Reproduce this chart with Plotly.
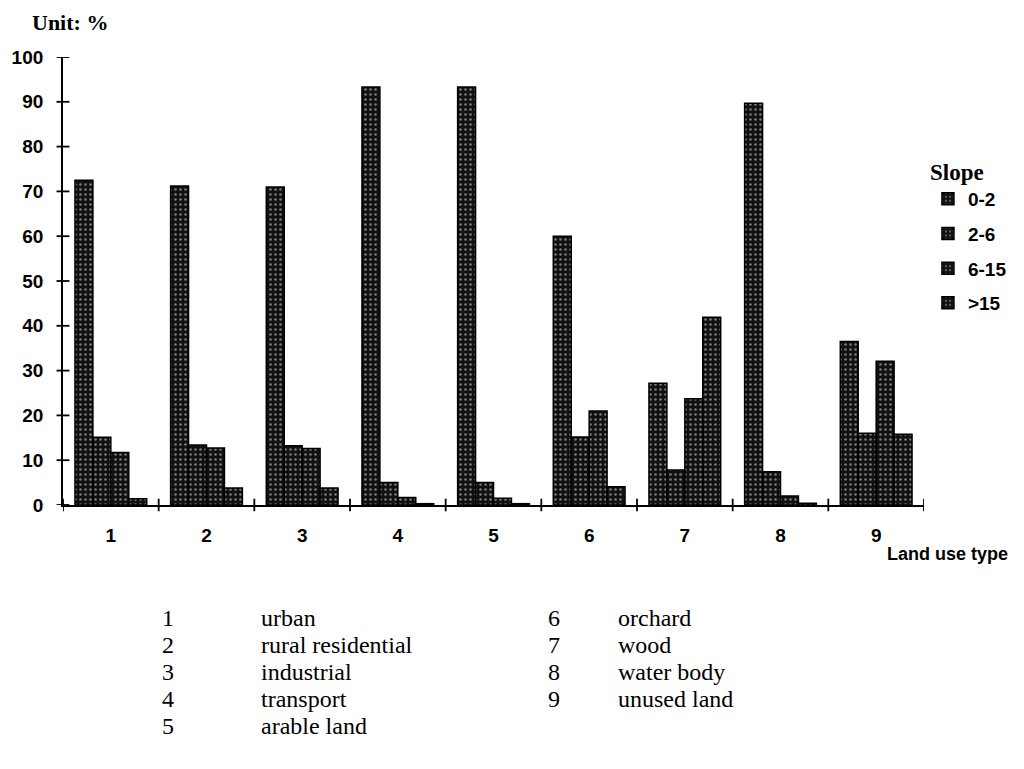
import plotly.graph_objects as go

# Land use type codes and their names
land_use = [1, 2, 3, 4, 5, 6, 7, 8, 9]
land_use_names = ["urban", "rural residential", "industrial", "transport",
                  "arable land", "orchard", "wood", "water body", "unused land"]

# Share of each land use type by slope class (%)
slope_classes = ["0-2", "2-6", "6-15", ">15"]
slope_0_2 = [72.5, 71.2, 71.0, 93.3, 93.3, 60.0, 27.2, 89.7, 36.5]
slope_2_6 = [15.1, 13.4, 13.2, 5.0, 5.0, 15.2, 7.8, 7.4, 16.0]
slope_6_15 = [11.7, 12.7, 12.6, 1.7, 1.5, 21.0, 23.7, 2.0, 32.1]
slope_gt15 = [1.4, 3.8, 3.8, 0.3, 0.3, 4.1, 41.9, 0.4, 15.8]

y_ticks = [0, 10, 20, 30, 40, 50, 60, 70, 80, 90, 100]
x_boundaries = [0.5, 1.5, 2.5, 3.5, 4.5, 5.5, 6.5, 7.5, 8.5, 9.5]

# Plot area in pixels
L, R, T, B = 60, 932, 57, 505
W, H = 1024, 769


def px_x(p):
    return (p - L) / (R - L)


def px_y(p):
    return (B - p) / (B - T)


fig = go.Figure()
for name, vals in zip(slope_classes, [slope_0_2, slope_2_6, slope_6_15, slope_gt15]):
    fig.add_trace(go.Bar(
        x=land_use, y=vals, name=name, legendgroup=name,
        marker=dict(
            color="#111111",
            line=dict(color="black", width=1.5),
            pattern=dict(shape=".", bgcolor="#111111", fgcolor="#e8e8e8",
                         size=5, solidity=0.2),
        ),
    ))

shapes = []
# crossing ticks on the y axis
for v in y_ticks:
    shapes.append(dict(type="line", xref="paper", yref="y",
                       x0=-0.0075, x1=0.0075, y0=v, y1=v,
                       line=dict(color="black", width=1.8)))
# crossing ticks at category boundaries on the x axis
for v in x_boundaries:
    shapes.append(dict(type="line", xref="x", yref="paper",
                       x0=v, x1=v, y0=-0.014, y1=0.014,
                       line=dict(color="black", width=1.8)))

serif = "Liberation Serif"
sans = "Liberation Sans"

annotations = [
    dict(text="<b>Unit: %</b>", x=px_x(27), y=px_y(22), xanchor="left", yanchor="middle",
         font=dict(family=serif, size=22, color="black")),
    dict(text="<b>Land use type</b>", x=px_x(892), y=px_y(554), xanchor="left",
         yanchor="middle", font=dict(family=sans, size=18, color="black")),
]

# Key for the land use codes below the chart
row_y = [618, 645, 672, 699, 726]
for i, (code, nm) in enumerate(zip(land_use, land_use_names)):
    if i < 5:
        cx, tx, ry = 166, 258, row_y[i]
    else:
        cx, tx, ry = 557, 620, row_y[i - 5]
    annotations.append(dict(text=str(code), x=px_x(cx), y=px_y(ry), xanchor="center",
                            yanchor="middle", font=dict(family=serif, size=24, color="black")))
    annotations.append(dict(text=nm, x=px_x(tx), y=px_y(ry), xanchor="left",
                            yanchor="middle", font=dict(family=serif, size=24, color="black")))

for a in annotations:
    a.update(xref="paper", yref="paper", showarrow=False)

fig.update_layout(
    width=W, height=H,
    margin=dict(l=L, r=W - R, t=T, b=H - B),
    paper_bgcolor="white", plot_bgcolor="white",
    barmode="group", bargap=0.25, bargroupgap=0,
    shapes=shapes, annotations=annotations,
    legend=dict(
        title=dict(text="Slope", font=dict(family=serif, size=23, color="black")),
        x=px_x(936), y=px_y(150), xanchor="left", yanchor="top",
        font=dict(family=sans, size=19, color="black", weight="bold"),
        bgcolor="rgba(0,0,0,0)", tracegroupgap=7, itemwidth=30,
    ),
    xaxis=dict(
        range=[0.5, 9.5], tickvals=land_use, ticktext=[str(v) for v in land_use],
        showline=True, linecolor="black", linewidth=1.8, ticks="", showgrid=False,
        zeroline=False, ticklabelstandoff=12,
        tickfont=dict(family=sans, size=19, color="black", weight="bold"),
    ),
    yaxis=dict(
        range=[0, 100], tickvals=y_ticks, showline=True, linecolor="black",
        linewidth=1.8, ticks="", showgrid=False, zeroline=False, ticklabelstandoff=14,
        tickfont=dict(family=sans, size=19, color="black", weight="bold"),
    ),
)

fig.write_html("out.html")
